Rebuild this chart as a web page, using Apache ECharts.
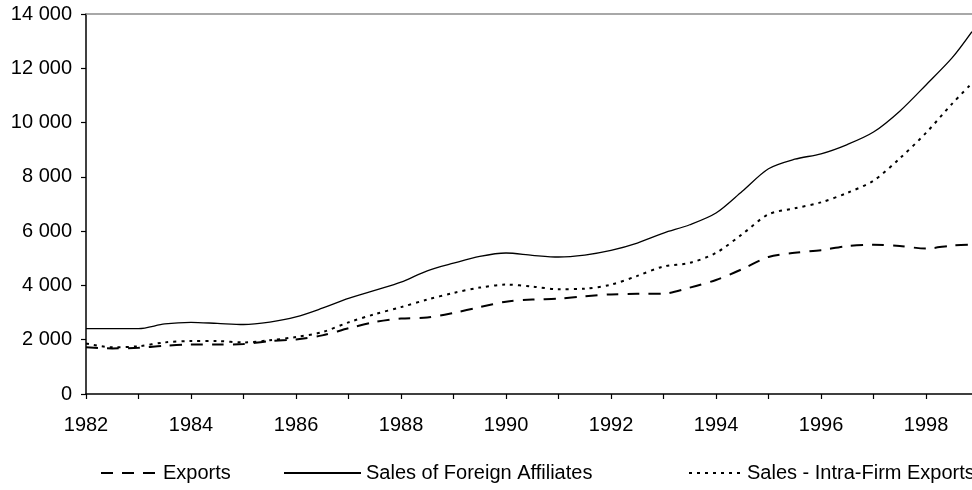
<!DOCTYPE html>
<html>
<head>
<meta charset="utf-8">
<script src="https://cdn.jsdelivr.net/npm/echarts@6/dist/echarts.min.js"></script>
<style>
html,body{margin:0;padding:0;background:#fff;}
#chart{width:972px;height:490px;}
</style>
</head>
<body>
<div id="chart"></div>
<script>
var years = [1982,1982.5,1983,1983.5,1984,1984.5,1985,1985.5,1986,1986.5,1987,1987.5,1988,1988.5,1989,1989.5,1990,1990.5,1991,1991.5,1992,1992.5,1993,1993.5,1994,1994.5,1995,1995.5,1996,1996.5,1997,1997.5,1998,1998.5,1998.875];
var exportsVals = [1720,1680,1700,1780,1820,1820,1840,1950,2010,2160,2420,2650,2780,2820,2988,3200,3400,3480,3510,3600,3670,3690,3698,3920,4200,4600,5050,5200,5300,5450,5500,5450,5360,5470,5500];
var salesForeignAffiliates = [2410,2410,2410,2580,2640,2600,2560,2650,2840,3160,3520,3820,4120,4540,4820,5070,5195,5110,5047,5120,5290,5560,5930,6236,6667,7470,8300,8650,8848,9190,9650,10420,11387,12390,13348];
var salesIntraFirm = [1860,1720,1760,1900,1950,1950,1900,1980,2100,2280,2640,2940,3200,3480,3723,3920,4030,3960,3860,3880,4030,4350,4700,4830,5200,5890,6620,6840,7060,7410,7860,8680,9620,10700,11450];
var seriesNames = ['Exports','Sales of Foreign Affiliates','Sales - Intra-Firm Exports'];
var yTicks = [0,2000,4000,6000,8000,10000,12000,14000];

function pairs(arr){ return years.map(function(y,i){ return [y, arr[i]]; }); }

var font = 'Liberation Sans, Arial, sans-serif';
var legendText = {color:'#000', fontSize:20, fontFamily:font};
var chart = echarts.init(document.getElementById('chart'), null, {renderer:'canvas'});
chart.setOption({
  animation:false,
  backgroundColor:'#fff',
  grid:{left:86, right:0, top:14, bottom:96, containLabel:false},
  xAxis:[{
    type:'value', min:1982, max:1998.876, interval:1,
    axisLine:{show:true, lineStyle:{color:'#000', width:1.5}},
    axisTick:{show:true, inside:false, length:5, lineStyle:{color:'#000', width:1.2}},
    axisLabel:{show:true, margin:21, color:'#000', fontSize:20, fontFamily:font,
      showMaxLabel:false,
      formatter:function(v){ return (Math.abs(v-Math.round(v))<1e-6 && Math.round(v)%2===0) ? String(Math.round(v)) : ''; }},
    splitLine:{show:false}
  },{
    type:'value', position:'top', min:1982, max:1998.876,
    axisLine:{show:true, onZero:false, lineStyle:{color:'#8c8c8c', width:1.5}},
    axisTick:{show:false}, axisLabel:{show:false}, splitLine:{show:false}
  }],
  yAxis:{
    type:'value', min:yTicks[0], max:yTicks[yTicks.length-1], interval:2000,
    axisLine:{show:true, lineStyle:{color:'#000', width:1.5}},
    axisTick:{show:true, inside:false, length:5, lineStyle:{color:'#000', width:1.2}},
    axisLabel:{show:true, margin:14, color:'#000', fontSize:20, fontFamily:font,
      formatter:function(v){ return v===0 ? '0' : (v/1000)+' 000'; }},
    splitLine:{show:false}
  },
  legend:[
    {data:[seriesNames[0]], left:95, top:458, itemWidth:57, itemHeight:14, itemStyle:{opacity:0}, textStyle:legendText},
    {data:[seriesNames[1]], left:278, top:458, itemWidth:77, itemHeight:14, itemStyle:{opacity:0}, textStyle:legendText},
    {data:[seriesNames[2]], left:683, top:458, itemWidth:53, itemHeight:14, itemStyle:{opacity:0}, textStyle:legendText}
  ],
  series:[
    {name:seriesNames[0], type:'line', data:pairs(exportsVals), showSymbol:false, symbol:'none', smooth:0.3,
     lineStyle:{color:'#000', width:2, type:[12,9]}, itemStyle:{color:'#000'}},
    {name:seriesNames[1], type:'line', data:pairs(salesForeignAffiliates), showSymbol:false, symbol:'none', smooth:0.3,
     lineStyle:{color:'#000', width:1.3, type:'solid'}, itemStyle:{color:'#000'}},
    {name:seriesNames[2], type:'line', data:pairs(salesIntraFirm), showSymbol:false, symbol:'none', smooth:0.3,
     lineStyle:{color:'#000', width:2, type:[3,5]}, itemStyle:{color:'#000'}}
  ]
});
</script>
</body>
</html>
